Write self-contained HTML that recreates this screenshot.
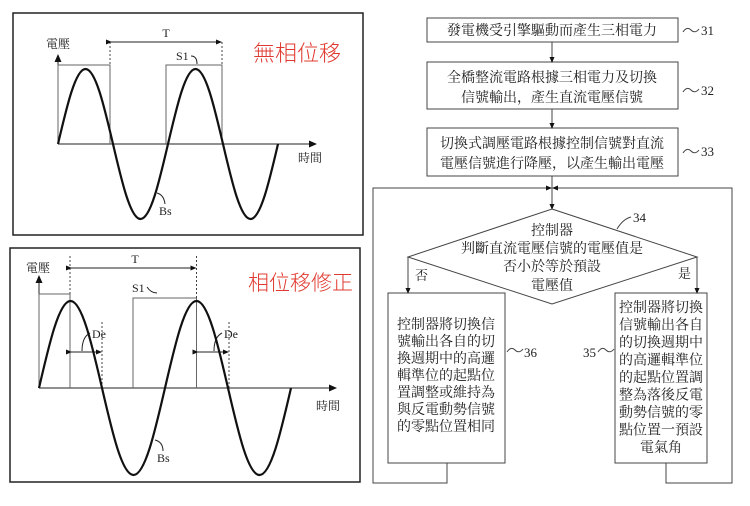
<!DOCTYPE html>
<html><head><meta charset="utf-8"><style>
html,body{margin:0;padding:0;background:#fff;}
svg{display:block;}
text{font-family:"Liberation Serif","Noto Serif CJK SC","Noto Sans CJK TC",serif;fill:#222;}
.cjk{font-family:"Liberation Serif","Noto Serif CJK SC","Noto Sans CJK TC",serif;}
.red{font-family:"Noto Sans CJK TC",sans-serif;fill:#e0392f;font-weight:300;}
</style></head><body>
<svg width="750" height="506" viewBox="0 0 750 506" xmlns="http://www.w3.org/2000/svg">
<defs>
<marker id="a" markerWidth="8" markerHeight="8" refX="7" refY="4" orient="auto" markerUnits="userSpaceOnUse"><path d="M0,0.5 L8,4 L0,7.5 z" fill="#111"/></marker>
<marker id="s" markerWidth="6" markerHeight="6" refX="5" refY="3" orient="auto" markerUnits="userSpaceOnUse"><path d="M0,0.5 L6,3 L0,5.5 z" fill="#111"/></marker>
</defs>
<!-- top panel -->
<rect x="13" y="13" width="350" height="222" fill="none" stroke="#222" stroke-width="1.5"/>
<line x1="58" y1="144" x2="58" y2="55" stroke="#222" stroke-width="1" marker-end="url(#a)"/>
<line x1="58" y1="144" x2="316" y2="144" stroke="#222" stroke-width="1" marker-end="url(#a)"/>
<path d="M58,144 V65 H110 V144 M166,144 V65 H222 V144" fill="none" stroke="#666" stroke-width="1"/>
<path d="M110,42 V65 M222,42 V65" stroke="#444" stroke-dasharray="2,2" stroke-width="1"/>
<line x1="111" y1="42" x2="221" y2="42" stroke="#222" marker-start="url(#s)" marker-end="url(#s)"/>
<text x="166" y="37" font-size="12" text-anchor="middle">T</text>
<text x="176" y="60" font-size="12">S1</text>
<path d="M191,56 q6,0 6,8" fill="none" stroke="#222"/>
<path d="M58,144 C66.97,105.6 75.56,69 85.5,69 C95.44,69 104.04,105.6 113,144 C121.97,182.4 130.56,219 140.5,219 C150.44,219 159.04,182.4 168,144 C176.97,105.6 185.56,69 195.5,69 C205.44,69 214.04,105.6 223,144 C231.97,182.4 240.56,219 250.5,219 C260.44,219 269.04,182.4 278,144" fill="none" stroke="#111" stroke-width="2.2"/>
<text x="46" y="48" font-size="12" class="cjk">電壓</text>
<text x="298" y="162" font-size="12" class="cjk">時間</text>
<text x="159" y="215" font-size="12">Bs</text>
<path d="M157,193 q7,2 8,11" fill="none" stroke="#222"/>
<text x="253" y="61" font-size="22" class="red">無相位移</text>
<!-- bottom panel -->
<rect x="10" y="248" width="350" height="234" fill="none" stroke="#222" stroke-width="1.5"/>
<line x1="39" y1="388" x2="39" y2="276" stroke="#222" stroke-width="1" marker-end="url(#a)"/>
<line x1="39" y1="388" x2="336" y2="388" stroke="#222" stroke-width="1" marker-end="url(#a)"/>
<path d="M39,388 V294 H70 V388 M133,388 V298 H196.5 V388" fill="none" stroke="#666" stroke-width="1"/>
<path d="M70,256 V294 M196.5,256 V298 M102,322 V388 M229,322 V388" stroke="#444" stroke-dasharray="2,2" stroke-width="1"/>
<line x1="71" y1="268" x2="195.5" y2="268" stroke="#222" marker-start="url(#s)" marker-end="url(#s)"/>
<text x="135" y="263" font-size="12" text-anchor="middle">T</text>
<text x="132" y="292" font-size="12">S1</text>
<path d="M147,287 q4,6 10,6" fill="none" stroke="#222"/>
<line x1="71" y1="352" x2="101" y2="352" stroke="#222" marker-start="url(#s)" marker-end="url(#s)"/>
<line x1="197.5" y1="352" x2="228" y2="352" stroke="#222" marker-start="url(#s)" marker-end="url(#s)"/>
<text x="92" y="338" font-size="12">De</text>
<text x="224" y="338" font-size="12">De</text>
<path d="M90,333 q-8,4 -8,18 M222,333 q-8,4 -8,18" fill="none" stroke="#222"/>
<path d="M39,388 C49.27,343.5 59.11,301 70.5,301 C81.89,301 91.73,343.5 102,388 C112.27,432.5 122.11,475 133.5,475 C144.89,475 154.73,432.5 165,388 C175.27,343.5 185.11,301 196.5,301 C207.89,301 217.73,343.5 228,388 C238.27,432.5 248.11,475 259.5,475 C270.89,475 280.73,432.5 291,388" fill="none" stroke="#111" stroke-width="2.2"/>
<text x="26" y="272" font-size="12" class="cjk">電壓</text>
<text x="316" y="410" font-size="12" class="cjk">時間</text>
<text x="157" y="462" font-size="12">Bs</text>
<path d="M155,440 q8,2 8,11" fill="none" stroke="#222"/>
<text x="248" y="290" font-size="21" class="red">相位移修正</text>
<!-- flowchart -->
<g stroke="#444" stroke-width="1" fill="none">
<rect x="427" y="18" width="251" height="24"/>
<rect x="427" y="62" width="251" height="47"/>
<rect x="427" y="128" width="251" height="48"/>
<line x1="552" y1="42" x2="552" y2="62" marker-end="url(#s)"/>
<line x1="552" y1="109" x2="552" y2="128" marker-end="url(#s)"/>
<line x1="552" y1="176" x2="552" y2="209" marker-end="url(#s)"/>
<path d="M552,209 L697,257 L552,304 L408,257 Z"/>
<path d="M408,257 V293" marker-end="url(#s)"/>
<path d="M697,257 V293" marker-end="url(#s)"/>
<rect x="388" y="293" width="117" height="170"/>
<rect x="615" y="293" width="92" height="170"/>
<path d="M447,463 V483 H373 V188 H551" marker-end="url(#s)"/>
<path d="M666,463 V483 H732 V188 H553" marker-end="url(#s)"/>
<path d="M683,32 q4,-6 8,-2 q4,4 8,-1"/>
<path d="M683,92 q4,-6 8,-2 q4,4 8,-1"/>
<path d="M683,153 q4,-6 8,-2 q4,4 8,-1"/>
<path d="M617,229 q6,-10 14,-12"/>
<path d="M507,352 q4,-6 8,-2 q4,4 8,-1"/>
<path d="M598,352 q4,-6 8,-2 q4,4 8,-1"/>
</g>
<g font-size="14" text-anchor="middle" class="cjk">
<text x="552" y="35">發電機受引擎驅動而產生三相電力</text>
<text x="552" y="82">全橋整流電路根據三相電力及切換</text>
<text x="552" y="102">信號輸出，產生直流電壓信號</text>
<text x="552" y="148">切換式調壓電路根據控制信號對直流</text>
<text x="552" y="168">電壓信號進行降壓，以產生輸出電壓</text>
<text x="552" y="235">控制器</text>
<text x="552" y="253">判斷直流電壓信號的電壓值是</text>
<text x="552" y="271">否小於等於預設</text>
<text x="552" y="290">電壓值</text>
<text x="446" y="329">控制器將切換信</text>
<text x="446" y="346">號輸出各自的切</text>
<text x="446" y="363">換週期中的高邏</text>
<text x="446" y="380">輯準位的起點位</text>
<text x="446" y="397">置調整或維持為</text>
<text x="446" y="414">與反電動勢信號</text>
<text x="446" y="431">的零點位置相同</text>
<text x="661" y="312">控制器將切換</text>
<text x="661" y="329.5">信號輸出各自</text>
<text x="661" y="347">的切換週期中</text>
<text x="661" y="364.5">的高邏輯準位</text>
<text x="661" y="382">的起點位置調</text>
<text x="661" y="399.5">整為落後反電</text>
<text x="661" y="417">動勢信號的零</text>
<text x="661" y="434.5">點位置一預設</text>
<text x="661" y="452">電氣角</text>
</g>
<g font-size="13">
<text x="415" y="280" class="cjk">否</text>
<text x="678" y="278" class="cjk">是</text>
<text x="701" y="35">31</text>
<text x="701" y="95">32</text>
<text x="701" y="156">33</text>
<text x="633" y="222">34</text>
<text x="524" y="357">36</text>
<text x="583" y="357">35</text>
</g>
</svg>
</body></html>
